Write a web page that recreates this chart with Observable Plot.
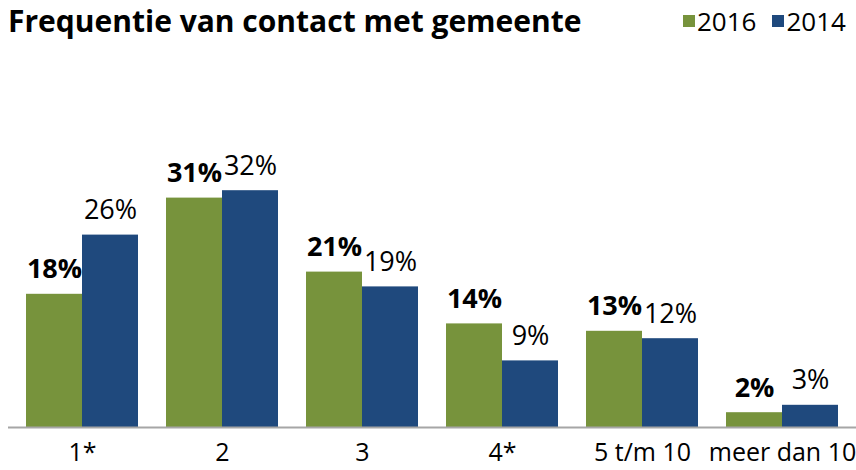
<!DOCTYPE html>
<html><head><meta charset="utf-8">
<script src="https://cdn.jsdelivr.net/npm/d3@7"></script>
<script src="https://cdn.jsdelivr.net/npm/@observablehq/plot@0.6"></script>
<style>
body{margin:0;background:#fff;font-family:"Open Sans",sans-serif;}
#wrap{width:856px;height:470px;position:relative;overflow:hidden;}
#head{height:44px;position:relative;}
#title{position:absolute;left:8px;top:0px;font-size:30px;line-height:42px;font-weight:700;color:#000;white-space:nowrap;}
#legend{position:absolute;left:683px;top:1px;font-size:26px;line-height:40px;color:#000;white-space:nowrap;display:flex;align-items:center;}
.sw{display:inline-block;width:12px;height:12px;margin-right:2px;}
.it{display:flex;align-items:center;margin-right:16px;}
</style></head>
<body><div id="wrap"><div id="head"><div id="title">Frequentie van contact met gemeente</div><div id="legend"></div></div><div id="chart"></div></div>
<script>
const categories = ["1*", "2", "3", "4*", "5 t/m 10", "meer dan 10"];
const values2016 = [18, 31, 21, 14, 13, 2];
const values2014 = [26, 32, 19, 9, 12, 3];
const years = ["2016", "2014"];
const colors = ["#77933C", "#1F497D"];

const leg = document.getElementById("legend");
years.forEach((y, i) => {
  const s = document.createElement("span"); s.className = "it";
  s.innerHTML = `<span class="sw" style="background:${colors[i]}"></span>${y}`;
  leg.appendChild(s);
});

const d16 = categories.map((c, i) => ({cat: c, v: values2016[i]}));
const d14 = categories.map((c, i) => ({cat: c, v: values2014[i]}));
const half = 56;

const chart = Plot.plot({
  width: 856, height: 426,
  marginLeft: 8, marginRight: 0, marginTop: 87, marginBottom: 43,
  style: {fontFamily: "Open Sans, sans-serif", background: "#fff", overflow: "visible"},
  x: {domain: categories, paddingInner: 0.2, paddingOuter: 0.125, label: null},
  y: {domain: [0, 40], axis: null},
  marks: [
    Plot.barY(d16, {x: "cat", y: "v", fill: colors[0], insetRight: half}),
    Plot.barY(d14, {x: "cat", y: "v", fill: colors[1], insetLeft: half}),
    Plot.ruleY([0], {stroke: "#a6a6a6", strokeWidth: 2}),
    Plot.text(d16, {x: "cat", y: "v", text: d => d.v + "%", dx: -28, dy: -16, lineAnchor: "bottom", fontSize: 27, fontWeight: "bold", fill: "#000"}),
    Plot.text(d14, {x: "cat", y: "v", text: d => d.v + "%", dx: 28, dy: -16, lineAnchor: "bottom", fontSize: 27, fill: "#000"}),
    Plot.axisX({anchor: "bottom", tickSize: 0, tickPadding: 16, fontSize: 25, label: null, color: "#000"})
  ]
});
document.getElementById("chart").appendChild(chart);
</script></body></html>
